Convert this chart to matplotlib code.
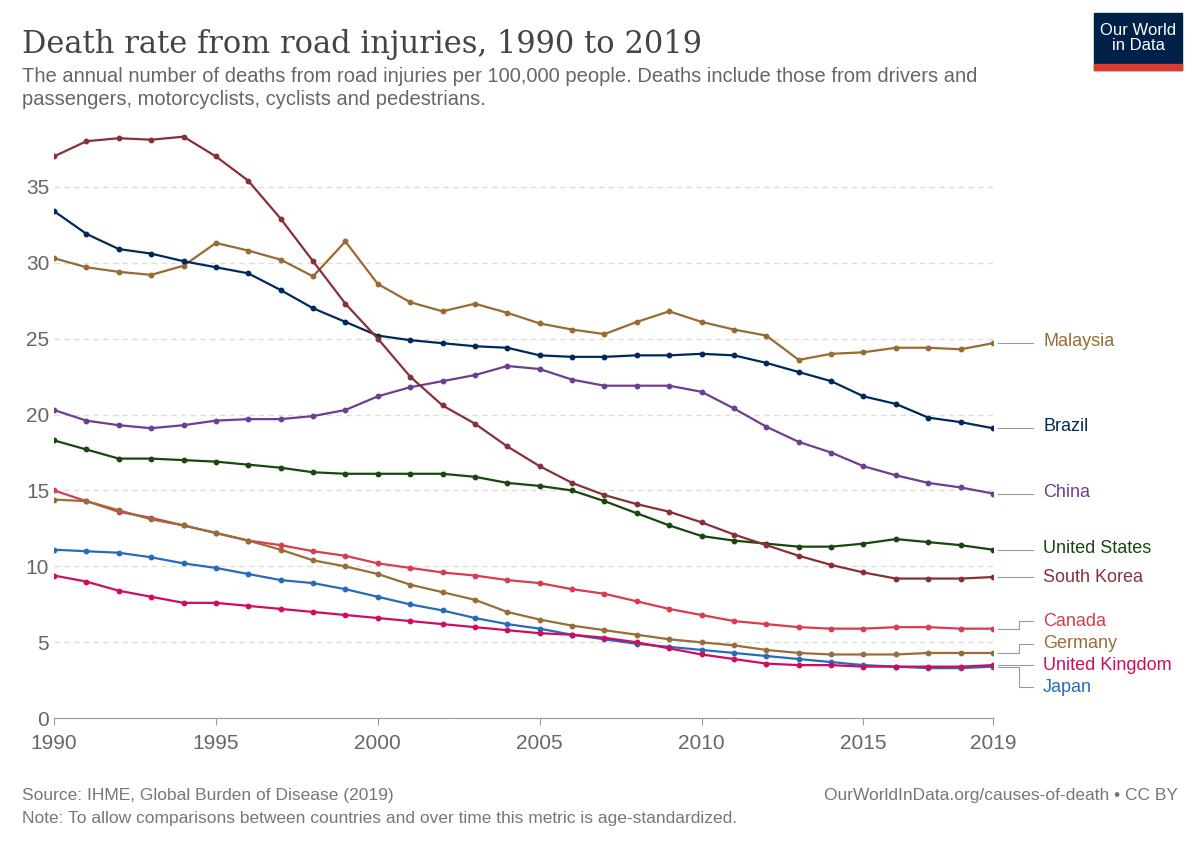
import matplotlib
matplotlib.use("Agg")
import matplotlib.pyplot as plt
from matplotlib.patches import Rectangle

plt.rcParams['font.family'] = ['Liberation Sans', 'DejaVu Sans']

years = list(range(1990, 2020))
south_korea = [37.0,38.0,38.2,38.1,38.3,37.0,35.4,32.9,30.1,27.3,25.0,22.5,20.6,19.4,17.9,16.6,15.5,14.7,14.1,13.6,12.9,12.1,11.4,10.7,10.1,9.6,9.2,9.2,9.2,9.3]
malaysia = [30.3,29.7,29.4,29.2,29.8,31.3,30.8,30.2,29.1,31.4,28.6,27.4,26.8,27.3,26.7,26.0,25.6,25.3,26.1,26.8,26.1,25.6,25.2,23.6,24.0,24.1,24.4,24.4,24.3,24.7]
brazil = [33.4,31.9,30.9,30.6,30.1,29.7,29.3,28.2,27.0,26.1,25.2,24.9,24.7,24.5,24.4,23.9,23.8,23.8,23.9,23.9,24.0,23.9,23.4,22.8,22.2,21.2,20.7,19.8,19.5,19.1]
china = [20.3,19.6,19.3,19.1,19.3,19.6,19.7,19.7,19.9,20.3,21.2,21.8,22.2,22.6,23.2,23.0,22.3,21.9,21.9,21.9,21.5,20.4,19.2,18.2,17.5,16.6,16.0,15.5,15.2,14.8]
us = [18.3,17.7,17.1,17.1,17.0,16.9,16.7,16.5,16.2,16.1,16.1,16.1,16.1,15.9,15.5,15.3,15.0,14.3,13.5,12.7,12.0,11.7,11.5,11.3,11.3,11.5,11.8,11.6,11.4,11.1]
canada = [15.0,14.3,13.6,13.2,12.7,12.2,11.7,11.4,11.0,10.7,10.2,9.9,9.6,9.4,9.1,8.9,8.5,8.2,7.7,7.2,6.8,6.4,6.2,6.0,5.9,5.9,6.0,6.0,5.9,5.9]
germany = [14.4,14.3,13.7,13.1,12.7,12.2,11.7,11.1,10.4,10.0,9.5,8.8,8.3,7.8,7.0,6.5,6.1,5.8,5.5,5.2,5.0,4.8,4.5,4.3,4.2,4.2,4.2,4.3,4.3,4.3]
japan = [11.1,11.0,10.9,10.6,10.2,9.9,9.5,9.1,8.9,8.5,8.0,7.5,7.1,6.6,6.2,5.9,5.5,5.2,4.9,4.7,4.5,4.3,4.1,3.9,3.7,3.5,3.4,3.3,3.3,3.4]
uk = [9.4,9.0,8.4,8.0,7.6,7.6,7.4,7.2,7.0,6.8,6.6,6.4,6.2,6.0,5.8,5.6,5.5,5.3,5.0,4.6,4.2,3.9,3.6,3.5,3.5,3.4,3.4,3.4,3.4,3.5]

series = [
    ("Malaysia", malaysia, "#9A6A33", 24.8),
    ("Brazil", brazil, "#00295B", 19.2),
    ("China", china, "#6D3E91", 14.9),
    ("United States", us, "#18470F", 11.2),
    ("South Korea", south_korea, "#883039", 9.3),
    ("Canada", canada, "#D73C50", 6.4),
    ("Germany", germany, "#996D39", 4.9),
    ("Japan", japan, "#286BBB", 2.05),
    ("United Kingdom", uk, "#CE0D60", 3.5),
]
fig = plt.figure(figsize=(12, 8.47), dpi=100)
ax = fig.add_axes([0.045, 0.152, 0.7825, 0.692])
for name, vals, col, ly in series:
    ax.plot(years, vals, color=col, lw=1.6, marker="o", ms=3.2, zorder=3)
    last = vals[-1]
    if abs(ly - last) > 0.3:
        xs, ys = [2019.15, 2019.8, 2019.8, 2020.25], [last, last, ly, ly]
    else:
        xs, ys = [2019.15, 2020.25], [last, last]
    ax.plot(xs, ys, color="#999999", lw=0.8, clip_on=False)
    ax.text(2020.55, ly, name, color=col, fontsize=13, va="center", ha="left")

ax.set_xlim(1990, 2019)
ax.set_ylim(0, 38.6)
ax.set_yticks([0, 5, 10, 15, 20, 25, 30, 35])
ax.set_xticks([1990, 1995, 2000, 2005, 2010, 2015, 2019])
ax.tick_params(axis="both", labelsize=15, colors="#666666", length=0)
ax.tick_params(axis="x", length=5, color="#999999", pad=6)
ax.grid(axis="y", ls=(0, (4, 3)), color="#dddddd", lw=1)
for s in ["top", "right", "left"]:
    ax.spines[s].set_visible(False)
ax.spines["bottom"].set_color("#999999")

fig.text(0.018, 0.937, "Death rate from road injuries, 1990 to 2019", fontsize=22,
         family="DejaVu Serif", color="#444444")
fig.text(0.018, 0.903, "The annual number of deaths from road injuries per 100,000 people. Deaths include those from drivers and",
         fontsize=14.5, color="#666666")
fig.text(0.018, 0.876, "passengers, motorcyclists, cyclists and pedestrians.", fontsize=14.5, color="#666666")
fig.text(0.018, 0.055, "Source: IHME, Global Burden of Disease (2019)", fontsize=12.5, color="#777777")
fig.text(0.982, 0.055, "OurWorldInData.org/causes-of-death • CC BY", fontsize=12.5, color="#777777", ha="right")
fig.text(0.018, 0.028, "Note: To allow comparisons between countries and over time this metric is age-standardized.",
         fontsize=12.5, color="#777777")

fig.patches.append(Rectangle((0.912, 0.917), 0.073, 0.068, transform=fig.transFigure, color="#002147"))
fig.patches.append(Rectangle((0.912, 0.917), 0.073, 0.007, transform=fig.transFigure, color="#DC3C2E"))
fig.text(0.9485, 0.955, "Our World\nin Data", color="white", fontsize=12, ha="center", va="center", linespacing=1.0)

fig.savefig("out.png", dpi=100)
